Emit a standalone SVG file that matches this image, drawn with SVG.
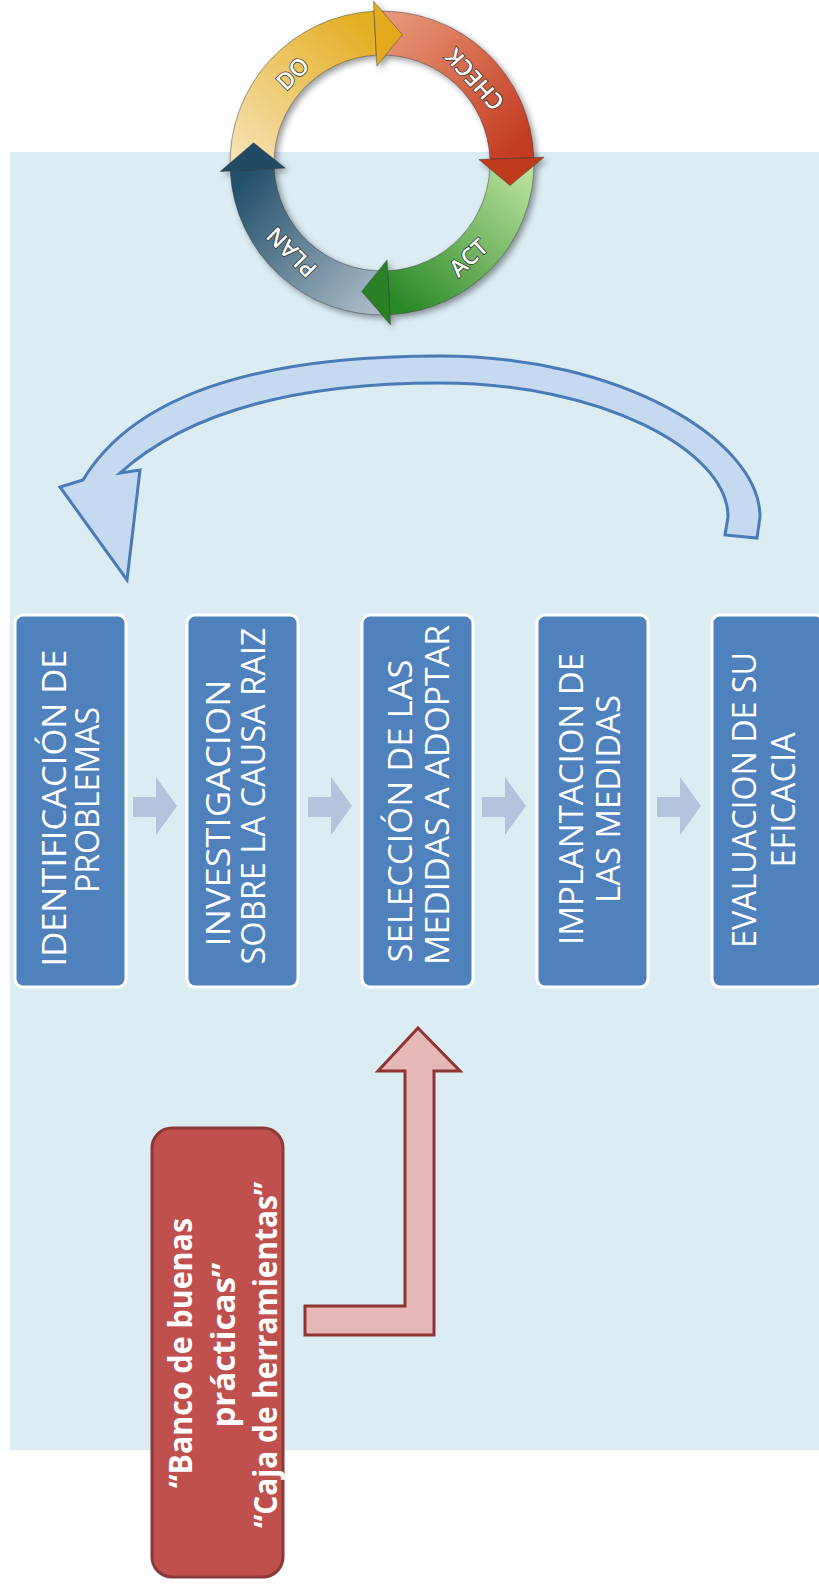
<svg xmlns="http://www.w3.org/2000/svg" width="819" height="1589" viewBox="0 0 819 1589">
<defs>
<style>
.box{fill:#4f81bd;stroke:#ffffff;stroke-width:3}
.bt{font-family:"Open Sans","Liberation Sans",sans-serif;font-size:33px;fill:#ffffff;text-anchor:middle}
.rt{font-family:"Open Sans","Liberation Sans",sans-serif;font-size:33px;font-weight:bold;fill:#ffffff;text-anchor:middle}
.step{fill:#b4c3dc}
.seg{stroke:#2e2e2e;stroke-opacity:0.55;stroke-width:0.8}
.rl{font-family:"Open Sans","Liberation Sans",sans-serif;font-size:23px;font-weight:600;fill:#ffffff;stroke:#2a2a2a;stroke-width:1.4;paint-order:stroke;text-anchor:middle;dominant-baseline:central}
</style>
<linearGradient id="gDo" gradientUnits="userSpaceOnUse" x1="252" y1="168" x2="375" y2="33"><stop offset="0" stop-color="#f5e1b2"/><stop offset="1" stop-color="#e4ae22"/></linearGradient>
<linearGradient id="gCheck" gradientUnits="userSpaceOnUse" x1="377" y1="33" x2="512" y2="158"><stop offset="0" stop-color="#e79678"/><stop offset="1" stop-color="#c23b20"/></linearGradient>
<linearGradient id="gAct" gradientUnits="userSpaceOnUse" x1="512" y1="160" x2="389" y2="293"><stop offset="0" stop-color="#b8e09a"/><stop offset="1" stop-color="#2c8a2a"/></linearGradient>
<linearGradient id="gPlan" gradientUnits="userSpaceOnUse" x1="387" y1="293" x2="252" y2="170"><stop offset="0" stop-color="#a9bac6"/><stop offset="1" stop-color="#24506a"/></linearGradient>
<filter id="sh" x="-20%" y="-20%" width="140%" height="140%"><feDropShadow dx="3" dy="3" stdDeviation="3" flood-color="#000" flood-opacity="0.4"/></filter>
</defs>
<rect x="0" y="0" width="819" height="1589" fill="#ffffff"/>
<rect id="panel" x="10" y="152" width="815" height="1298" fill="#dbecf3"/>

<g id="pdca" filter="url(#sh)">
<path class="seg" fill="url(#gDo)" d="M230.1,168.3 A152,152 0 0 1 374.0,11.2 L376.3,55.1 A108,108 0 0 0 274.1,166.8 Z"/>
<path class="seg" fill="url(#gCheck)" d="M376.7,11.1 A152,152 0 0 1 533.9,157.7 L489.9,159.2 A108,108 0 0 0 378.2,55.1 Z"/>
<path class="seg" fill="url(#gAct)" d="M534.0,160.4 A152,152 0 0 1 390.0,314.8 L387.7,270.9 A108,108 0 0 0 490.0,161.1 Z"/>
<path class="seg" fill="url(#gPlan)" d="M387.3,314.9 A152,152 0 0 1 230.2,171.0 L274.2,168.7 A108,108 0 0 0 385.8,270.9 Z"/>
<path class="seg" fill="#e2aa1c" d="M373.5,1.2 L402.3,34.6 L376.9,66.1 Z"/>
<path class="seg" fill="#bf3a1f" d="M543.9,157.3 L510.0,185.6 L478.9,159.6 Z"/>
<path class="seg" fill="#2b8028" d="M390.5,324.8 L361.7,291.4 L387.1,259.9 Z"/>
<path class="seg" fill="#204b64" d="M220.2,171.5 L253.6,142.7 L285.1,168.1 Z"/>
</g>
<g id="pdca-labels">
<text class="rl" transform="translate(292,73) rotate(-45)">DO</text>
<text class="rl" transform="translate(474,80) rotate(-132)">CHECK</text>
<text class="rl" transform="translate(468,257) rotate(-43)">ACT</text>
<text class="rl" transform="translate(291,253) rotate(-135)">PLAN</text>
</g>

<g id="connectors">
<path id="loop-arrow" fill="#c5d9f0" stroke="#4a7bb6" stroke-width="3" stroke-linejoin="miter" d="M757,538 L760,517 C760,440 620,356 440,356 C280,356 140,385 83,480 L60,487 L127,580 L140,470 L120,473 C190,410 300,383 440,383 C600,383 728,450 728,517 L725,535 Z"/>
<path class="step" d="M133,797 H156 V777 L177,806 L156,835 V817 H133 Z"/>
<path class="step" d="M308,797 H331 V777 L352,806 L331,835 V817 H308 Z"/>
<path class="step" d="M482,797 H505 V777 L526,806 L505,835 V817 H482 Z"/>
<path class="step" d="M657,797 H680 V777 L701,806 L680,835 V817 H657 Z"/>
<path id="tool-arrow" fill="#e6b9b8" stroke="#8e3532" stroke-width="3" d="M418,1028 L460,1071 L434,1071 L434,1335 L305,1335 L305,1306 L405,1306 L405,1071 L378,1071 Z"/>
</g>

<g id="n1">
<rect class="box" x="15" y="615" width="111" height="372" rx="8"/>
<text class="bt" transform="translate(66,808) rotate(-90)" textLength="317" lengthAdjust="spacingAndGlyphs">IDENTIFICACIÓN DE</text>
<text class="bt" transform="translate(99,800) rotate(-90)" textLength="186" lengthAdjust="spacingAndGlyphs">PROBLEMAS</text>
</g>
<g id="n2">
<rect class="box" x="187" y="615" width="111" height="372" rx="8"/>
<text class="bt" transform="translate(230,813) rotate(-90)" textLength="267" lengthAdjust="spacingAndGlyphs">INVESTIGACION</text>
<text class="bt" transform="translate(265,796) rotate(-90)" textLength="337" lengthAdjust="spacingAndGlyphs">SOBRE LA CAUSA RAIZ</text>
</g>
<g id="n3">
<rect class="box" x="362" y="615" width="111" height="372" rx="8"/>
<text class="bt" transform="translate(412,811) rotate(-90)" textLength="303" lengthAdjust="spacingAndGlyphs">SELECCIÓN DE LAS</text>
<text class="bt" transform="translate(449,795) rotate(-90)" textLength="340" lengthAdjust="spacingAndGlyphs">MEDIDAS A ADOPTAR</text>
</g>
<g id="n4">
<rect class="box" x="537" y="615" width="111" height="372" rx="8"/>
<text class="bt" transform="translate(583,799) rotate(-90)" textLength="292" lengthAdjust="spacingAndGlyphs">IMPLANTACION DE</text>
<text class="bt" transform="translate(620,799) rotate(-90)" textLength="208" lengthAdjust="spacingAndGlyphs">LAS MEDIDAS</text>
</g>
<g id="n5">
<rect class="box" x="712" y="615" width="111" height="372" rx="8"/>
<text class="bt" transform="translate(756,800) rotate(-90)" textLength="296" lengthAdjust="spacingAndGlyphs">EVALUACION DE SU</text>
<text class="bt" transform="translate(795,800) rotate(-90)" textLength="135" lengthAdjust="spacingAndGlyphs">EFICACIA</text>
</g>
<g id="tools">
<rect x="152" y="1128" width="131" height="449" rx="20" fill="#c0504d" stroke="#8c3a38" stroke-width="3"/>
<text class="rt" transform="translate(192,1353) rotate(-90)" textLength="270" lengthAdjust="spacingAndGlyphs">“Banco de buenas</text>
<text class="rt" transform="translate(235,1345) rotate(-90)" textLength="165" lengthAdjust="spacingAndGlyphs">prácticas”</text>
<text class="rt" transform="translate(277,1355) rotate(-90)" textLength="346" lengthAdjust="spacingAndGlyphs">“Caja de herramientas”</text>
</g>
</svg>
